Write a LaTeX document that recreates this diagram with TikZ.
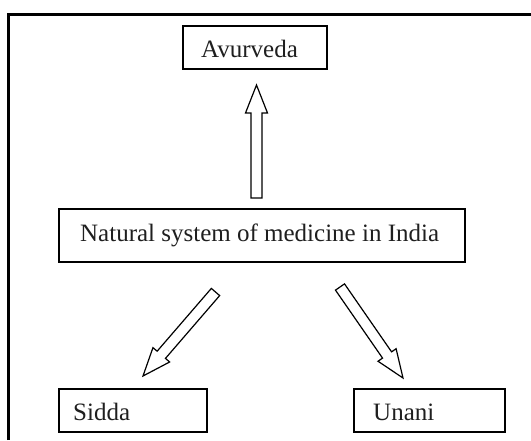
\documentclass[tikz,border=0pt]{standalone}
\usepackage{fontspec}
\setmainfont{Liberation Serif}
\usetikzlibrary{calc}
\newcommand\myblockarrow[2]{%
  \coordinate (hb) at ($(#2)!28pt!(#1)$);
  \draw[blockarrow] ($(#1)!5.5pt!90:(#2)$) -- ($(hb)!5.5pt!90:(#2)$) -- ($(hb)!11pt!90:(#2)$) -- (#2)
    -- ($(hb)!11pt!-90:(#2)$) -- ($(hb)!5.5pt!-90:(#2)$) -- ($(#1)!5.5pt!-90:(#2)$) -- cycle;}
\begin{document}
\begin{tikzpicture}[x=1pt,y=-1pt,
  box/.style={draw, line width=1.6pt, inner sep=0pt},
  lbl/.style={font=\fontsize{25}{30}\selectfont, inner sep=0pt, anchor=base west, text=black!88},
  blockarrow/.style={draw, line width=1.2pt, line join=miter, fill=white}]
\useasboundingbox (0,0) rectangle (531,440);
\coordinate (fbl) at (8,440);
\coordinate (ftl) at (8,14);
\coordinate (ftr) at (531,14);
\draw[line width=3pt] (fbl) -- (ftl) -- (ftr);
% boxes
\node[box, minimum width=144pt, minimum height=43pt] (ayur) at (255,47.5) {};
\node[box, minimum width=406pt, minimum height=53pt] (main) at (262,235.5) {};
\node[box, minimum width=148pt, minimum height=43pt] (sidda) at (133,410.5) {};
\node[box, minimum width=151pt, minimum height=43pt] (unani) at (429.5,410.5) {};
% texts
\node[lbl] (ayurt) at (201,57) {Avurveda};
\node[lbl] (maint) at (80,241) {Natural system of medicine in India};
\node[lbl] (siddat) at (73,420) {Sidda};
\node[lbl] (unanit) at (373,420) {Unani};
% arrows
\coordinate (upA) at (256.5,198);
\coordinate (upB) at (256.5,85);
\coordinate (lA) at (215.5,292);
\coordinate (lB) at (143,376);
\coordinate (rA) at (340,287);
\coordinate (rB) at (403,378);
\myblockarrow{upA}{upB}
\myblockarrow{lA}{lB}
\myblockarrow{rA}{rB}
\end{tikzpicture}
\end{document}
